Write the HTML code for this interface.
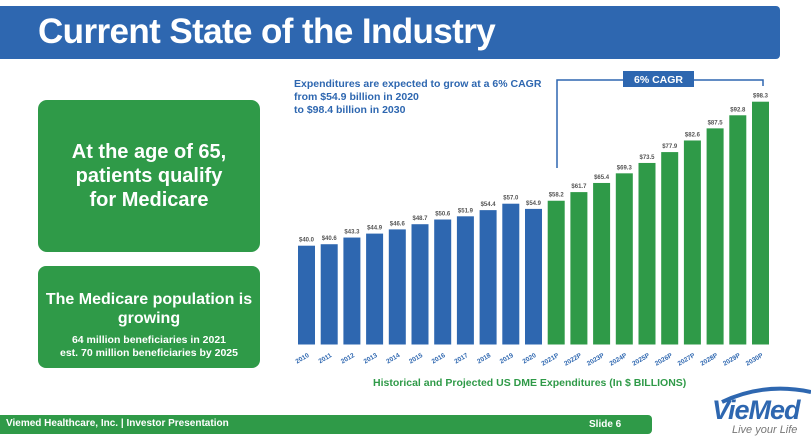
<!DOCTYPE html>
<html><head><meta charset="utf-8"><style>
body{margin:0;width:811px;height:441px;background:#fff;position:relative;overflow:hidden;font-family:"Liberation Sans",sans-serif}
.abs{position:absolute}
</style></head><body>
<div class="abs" style="left:0;top:6px;width:780px;height:53px;background:#2E67B0;border-radius:0 4px 4px 0"></div>
<div class="abs" style="left:38px;top:9px;color:#fff;font-weight:bold;font-size:35px;line-height:46px;letter-spacing:-0.6px">Current State of the Industry</div>

<div class="abs" style="left:38px;top:100px;width:222px;height:152px;background:#2F9A48;border-radius:9px;display:flex;align-items:center;justify-content:center;text-align:center;color:#fff;font-weight:bold;font-size:20px;line-height:24px">At the age of 65,<br>patients qualify<br>for Medicare</div>
<div class="abs" style="left:38px;top:266px;width:222px;height:102px;background:#2F9A48;border-radius:8px;text-align:center;color:#fff;font-weight:bold">
<div style="font-size:16px;line-height:19px;margin-top:24px">The Medicare population is growing</div>
<div style="font-size:10.5px;line-height:13px;margin-top:6px">64 million beneficiaries in 2021<br>est. 70 million beneficiaries by 2025</div></div>

<div class="abs" style="left:294px;top:78px;color:#2E67B0;font-weight:bold;font-size:10.5px;line-height:13px">Expenditures are expected to grow at a 6% CAGR<br>from $54.9 billion in 2020<br>to $98.4 billion in 2030</div>

<svg id="chart" class="abs" style="left:0;top:0" width="811" height="441"></svg>

<div class="abs" style="left:373px;top:377px;color:#2F9A48;font-weight:bold;font-size:10.5px">Historical and Projected US DME Expenditures (In $ BILLIONS)</div>

<div class="abs" style="left:0;top:415px;width:652px;height:19px;background:#2F9A48;border-radius:0 4px 4px 0"></div>
<div class="abs" style="left:6px;top:417px;color:#fff;font-weight:bold;font-size:10px;line-height:14px">Viemed Healthcare, Inc. | Investor Presentation</div>
<div class="abs" style="left:589px;top:418px;color:#fff;font-weight:bold;font-size:10px;line-height:14px">Slide 6</div>

<div class="abs" style="left:704px;top:386px;width:107px;height:55px">
<svg width="107" height="55" style="position:absolute;left:0;top:0"><path d="M18 16 Q60 -4 107 6" stroke="#2E67B0" stroke-width="4" fill="none"/></svg>
<div style="position:absolute;left:8px;top:10px;color:#2E67B0;font-weight:bold;font-style:italic;font-size:27px;line-height:28px;letter-spacing:-1px">VieMed</div>
<div style="position:absolute;left:28px;top:38px;color:#777;font-style:italic;font-size:11px">Live your Life</div>
</div>

<script>
const years=["2010","2011","2012","2013","2014","2015","2016","2017","2018","2019","2020","2021P","2022P","2023P","2024P","2025P","2026P","2027P","2028P","2029P","2030P"];
const values=[40.0,40.6,43.3,44.9,46.6,48.7,50.6,51.9,54.4,57.0,54.9,58.2,61.7,65.4,69.3,73.5,77.9,82.6,87.5,92.8,98.3];
const projectedFrom=11;
const svg=document.getElementById('chart');
const NS='http://www.w3.org/2000/svg';
const x0=298,pitch=22.7,bw=17,base=344.5,k=2.47;
const xs=i=>x0+i*pitch;
const ys=v=>base-v*k;
function mk(t,a){const e=document.createElementNS(NS,t);for(const n in a)e.setAttribute(n,a[n]);svg.appendChild(e);return e;}
values.forEach((v,i)=>{
 const r=mk('rect',{x:xs(i),y:ys(v),width:bw,height:base-ys(v),fill:i<projectedFrom?'#2E67B0':'#2F9A48'});
 
 
 const t=mk('text',{x:xs(i)+bw/2,y:ys(v)-4,'text-anchor':'middle','font-size':'6','font-weight':'bold',fill:'#555','font-family':'Liberation Sans, sans-serif'});
 t.textContent='$'+v.toFixed(1);
 
 
 const l=mk('text',{x:0,y:0,'text-anchor':'end','font-size':'6.5','font-weight':'bold',fill:'#2E67B0','font-family':'Liberation Sans, sans-serif',transform:`translate(${xs(i)+bw/2+3},${base+12}) rotate(-30)`});
 l.textContent=years[i];
 
 
});
const br=mk('path',{d:'M557 168 V80 H763 V86',stroke:'#2E67B0','stroke-width':'1.5',fill:'none'});


const bx=mk('rect',{x:623,y:71,width:71,height:16,fill:'#2E67B0'});


const bt=mk('text',{x:658.5,y:83,'text-anchor':'middle','font-size':'10.5','font-weight':'bold',fill:'#fff','font-family':'Liberation Sans, sans-serif'});
bt.textContent='6% CAGR';


</script>
</body></html>
